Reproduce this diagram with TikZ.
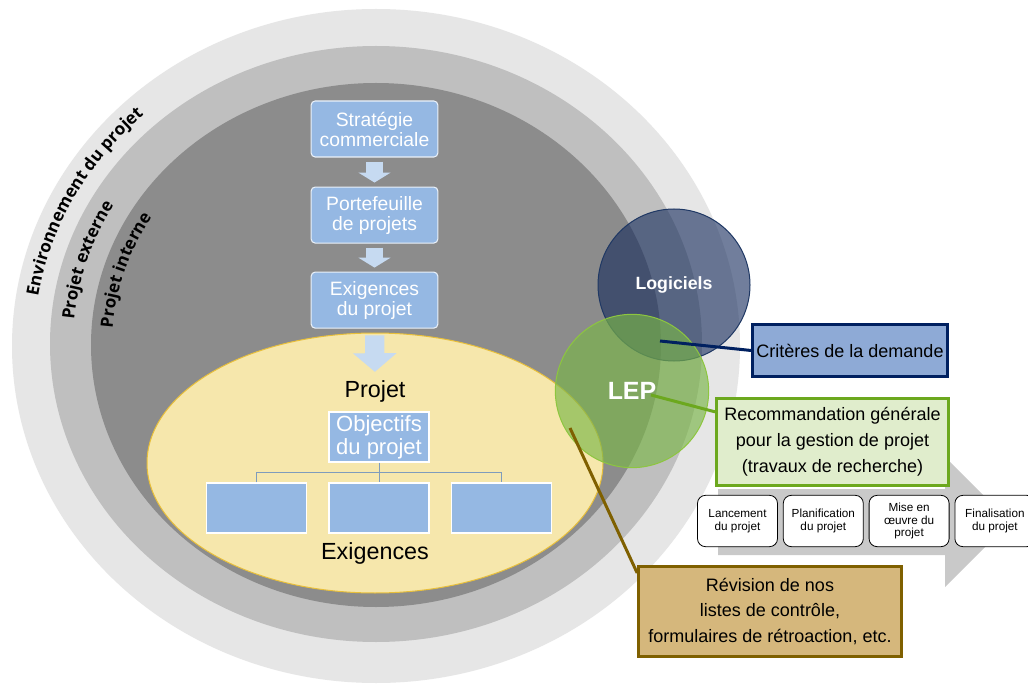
\documentclass[tikz,border=0pt]{standalone}
\usepackage{fontspec}
\setmainfont{Liberation Sans}
\setsansfont{Open Sans}
\usepackage{tikz}
\usetikzlibrary{shapes.geometric, positioning, arrows.meta, calc, decorations.text}
\definecolor{ringout}{HTML}{E6E6E6}
\definecolor{ringmid}{HTML}{BFBFBF}
\definecolor{ringin}{HTML}{8C8C8C}
\definecolor{flowblue}{HTML}{95B8E3}
\definecolor{arrowblue}{HTML}{C6DAF1}
\definecolor{projyellow}{HTML}{F6E7AC}
\definecolor{projedge}{HTML}{E8BF3A}
\definecolor{navy}{HTML}{1F3864}
\definecolor{logfill}{HTML}{13295A}
\definecolor{navyline}{HTML}{002060}
\definecolor{critfill}{HTML}{8EAAD6}
\definecolor{lepgreen}{HTML}{7AB648}
\definecolor{lepedge}{HTML}{8DC63F}
\definecolor{recline}{HTML}{6CA81E}
\definecolor{recfill}{HTML}{E0EDCC}
\definecolor{revfill}{HTML}{D5B77C}
\definecolor{revline}{HTML}{7F6000}
\definecolor{treeline}{HTML}{7F9CBC}
\definecolor{phasegrey}{HTML}{C9C9C9}

\begin{document}
\begin{tikzpicture}[
  x=0.75pt, y=-0.75pt,
  flow/.style={rectangle, draw=white!80!flowblue, line width=0.8pt, fill=flowblue, rounded corners=3pt, text=white, minimum width=95pt, minimum height=42pt, align=center, inner sep=0pt, font=\fontsize{14.5}{15}\selectfont},
  req/.style={rectangle, draw=white, line width=0.9pt, fill=flowblue, minimum width=75pt, minimum height=37.5pt, align=center, inner sep=0pt},
  blockarrow/.style={arrowblue, line width=12.75pt, -{Triangle[width=24pt, length=7.5pt]}},
  tree/.style={treeline, line width=0.75pt},
  callout/.style={rectangle, line width=2.25pt, align=center, inner sep=0pt, font=\fontsize{13.5}{19.5}\selectfont},
  phase/.style={rectangle, rounded corners=6pt, draw=black, line width=0.6pt, fill=white, minimum width=60pt, minimum height=38.5pt, align=center, inner sep=1pt, font=\fontsize{8.8}{9.3}\selectfont},
  ringtext/.style={decorate, decoration={text along path, text align=left, text={#1}}}
]
  \useasboundingbox (0,0) rectangle (1028,684);
  \fill[white] (0,0) rectangle (1028,684);

  % project environment rings
  \fill[ringout] (376,346) ellipse [x radius=364, y radius=337];
  \fill[ringmid] (376,344) ellipse [x radius=326, y radius=298];
  \fill[ringin] (376,345) ellipse [x radius=285, y radius=262];

  \path[ringtext={|\sffamily\bfseries\fontsize{12.8}{12.8}\selectfont|Environnement du projet}]
    (376,346) ++(189:342 and 315) arc[start angle=189, end angle=260, x radius=342, y radius=315];
  \path[ringtext={|\sffamily\bfseries\fontsize{12.8}{12.8}\selectfont|Projet externe}]
    (376,344) ++(185:303 and 277) arc[start angle=185, end angle=250, x radius=303, y radius=277];
  \path[ringtext={|\sffamily\bfseries\fontsize{12.8}{12.8}\selectfont|Projet interne}]
    (376,345) ++(184:264 and 242) arc[start angle=184, end angle=250, x radius=264, y radius=242];

  % project life cycle arrow
  \fill[phasegrey] (718,489) -- (945,489) -- (945,457) -- (1010,522) -- (945,587) -- (945,555) -- (718,555) -- cycle;

  % project
  \node[ellipse, draw=projedge, line width=0.75pt, fill=projyellow, minimum width=342pt, minimum height=195pt, inner sep=0pt] (proj) at (375,463) {};

  \node[flow] (strat) at (374.5,129) {Stratégie\\commerciale};
  \node[flow, below=21.75pt of strat] (porte) {Portefeuille\\de projets};
  \node[flow, below=21pt of porte] (exig) {Exigences\\du projet};

  \node[font=\fontsize{17.5}{18}\selectfont, inner sep=0pt] (projlbl) at (375,391) {Projet};
  \node[req, text=white, font=\fontsize{16.5}{17.5}\selectfont] (obj) at (379,437) {Objectifs\\du projet};
  \node[req] (req2) at (379,508) {};
  \node[req, left=15.75pt of req2] (req1) {};
  \node[req, right=15.75pt of req2] (req3) {};
  \node[font=\fontsize{17.5}{18}\selectfont, inner sep=0pt] (exiglbl) at (375,553) {Exigences};

  \draw[blockarrow, shorten <=3pt, shorten >=3pt] (strat) -- (porte);
  \draw[blockarrow, shorten <=3pt, shorten >=3pt] (porte) -- (exig);
  \draw[arrowblue, line width=14.5pt, -{Triangle[width=32pt, length=14pt]}, shorten <=5pt, shorten >=6pt] (exig) -- (projlbl);

  \coordinate (fork) at ($(obj.south)!0.5!(req2.north)$);
  \draw[tree] (obj.south) -- (req2.north);
  \draw[tree] (req1.north) |- (fork) -| (req3.north);

  % tools
  \node[circle, draw=navy, line width=0.75pt, fill=logfill, fill opacity=0.6, text opacity=1, text=white, minimum size=114pt, inner sep=0pt, font=\bfseries\fontsize{13.3}{14}\selectfont] (logi) at (674,285) {Logiciels};
  \node[circle, draw=lepedge, line width=0.75pt, fill=lepgreen, fill opacity=0.65, text opacity=1, text=white, minimum size=115pt, inner sep=0pt, font=\bfseries\fontsize{18.7}{20}\selectfont] (lep) at (632,391) {LEP};

  \node[callout, draw=navyline, fill=critfill, minimum width=146pt, minimum height=39pt] (crit) at (850,350.5) {Critères de la demande};
  \node[callout, draw=recline, fill=recfill, minimum width=174pt, minimum height=65pt] (rec) at (832.5,442) {Recommandation générale\\pour la gestion de projet\\(travaux de recherche)};
  \node[callout, draw=revline, fill=revfill, minimum width=197pt, minimum height=67.5pt, font=\fontsize{13.5}{19}\selectfont] (rev) at (770,611.5) {Révision de nos\\listes de contrôle,\\formulaires de rétroaction, etc.};

  \coordinate (logpt) at (660,341);
  \coordinate (leppt) at (651,395);
  \coordinate (revpt) at (570,428);
  \draw[navyline, line width=2.25pt] (logpt) -- (crit.west);
  \draw[recline, line width=2.25pt] (leppt) -- ([yshift=-11pt]rec.north west);
  \draw[revline, line width=2.25pt] (revpt) -- ([yshift=-6pt]rev.north west);

  % project phases
  \node[phase] (launch) at (737.5,521) {Lancement\\du projet};
  \node[phase, right=3.75pt of launch] (plan) {Planification\\du projet};
  \node[phase, right=3.75pt of plan] (exec) {Mise en\\œuvre du\\projet};
  \node[phase, right=3.75pt of exec] (close) {Finalisation\\du projet};
\end{tikzpicture}
\end{document}
